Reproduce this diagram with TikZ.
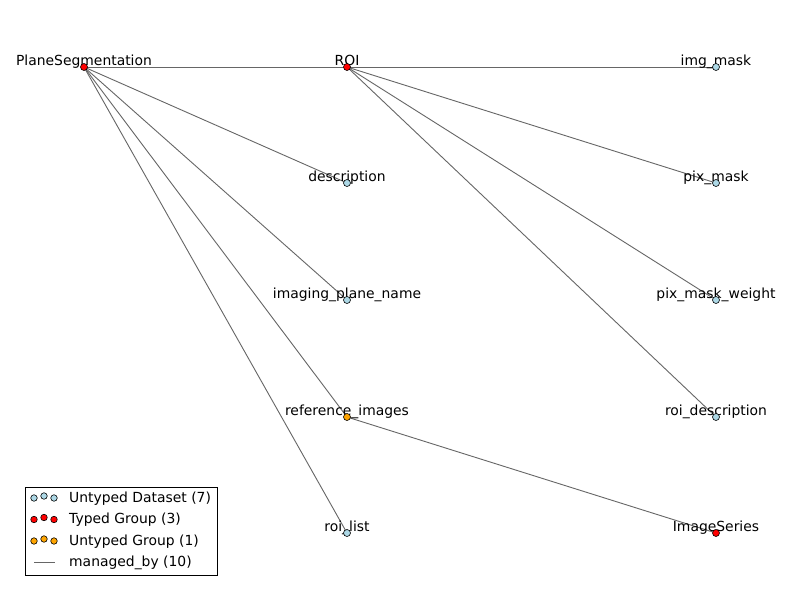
\documentclass[tikz,border=0pt]{standalone}
\usepackage{fontspec}
\setmainfont{DejaVu Sans}
\begin{document}
\begin{tikzpicture}[x=1pt,y=-1pt,
  edge/.style={draw=black!60!white, line width=0.9pt},
  dsnode/.style={circle, draw=black, line width=0.6pt, inner sep=0pt, minimum size=7pt, fill=lbl},
  tgnode/.style={dsnode, fill=red},
  ugnode/.style={dsnode, fill=orng},
  lmark/.style={circle, draw=black, line width=0.6pt, inner sep=0pt, minimum size=6.5pt},
  lab/.style={font=\fontsize{13.9}{16}\selectfont, anchor=base, inner sep=0pt},
  legtext/.style={font=\fontsize{13.9}{16}\selectfont, anchor=west, inner sep=0pt}]
\definecolor{lbl}{RGB}{173,216,230}
\definecolor{orng}{RGB}{255,165,0}
\useasboundingbox[fill=white] (0,0) rectangle (800,600);
% coordinates
\coordinate (PS) at (84,67);
\coordinate (ROI) at (347,67);
\coordinate (IM) at (716,67);
\coordinate (DE) at (347,183);
\coordinate (PM) at (716,183);
\coordinate (IPN) at (347,300);
\coordinate (PMW) at (716,300);
\coordinate (RI) at (347,417);
\coordinate (RD) at (716,417);
\coordinate (RL) at (347,533);
\coordinate (IS) at (716,533);
% edges
\draw[edge] (PS) -- (ROI);
\draw[edge] (PS) -- (DE);
\draw[edge] (PS) -- (IPN);
\draw[edge] (PS) -- (RI);
\draw[edge] (PS) -- (RL);
\draw[edge] (ROI) -- (IM);
\draw[edge] (ROI) -- (PM);
\draw[edge] (ROI) -- (PMW);
\draw[edge] (ROI) -- (RD);
\draw[edge] (RI) -- (IS);
% labels
\foreach \c/\t in {PS/PlaneSegmentation, ROI/ROI, IM/img\_mask, DE/description, PM/pix\_mask, IPN/imaging\_plane\_name, PMW/pix\_mask\_weight, RI/reference\_images, RD/roi\_description, RL/roi\_list, IS/ImageSeries}
  \node[lab] at ([yshift=2]\c) {\t};
% nodes
\node[tgnode] (nPS) at (PS) {};
\node[tgnode] (nROI) at (ROI) {};
\node[dsnode] (nIM) at (IM) {};
\node[dsnode] (nDE) at (DE) {};
\node[dsnode] (nPM) at (PM) {};
\node[dsnode] (nIPN) at (IPN) {};
\node[dsnode] (nPMW) at (PMW) {};
\node[ugnode] (nRI) at (RI) {};
\node[dsnode] (nRD) at (RD) {};
\node[dsnode] (nRL) at (RL) {};
\node[tgnode] (nIS) at (IS) {};
% legend
\draw[black, line width=0.9pt, fill=white] (25.5,487.5) rectangle (217,575);
\foreach \y/\col/\t [count=\i] in {498/lbl/Untyped Dataset (7), 519.5/red/Typed Group (3), 541/orng/Untyped Group (1)} {
  \node[lmark, fill=\col] (lm\i a) at (34,\y) {};
  \node[lmark, fill=\col] (lm\i b) at (44,\y-2) {};
  \node[lmark, fill=\col] (lm\i c) at (54,\y) {};
  \node[legtext] (lt\i) at (69,\y+0.5) {\t};
}
\coordinate (la) at (34,562);
\coordinate (lb) at (55,562);
\draw[edge] (la) -- (lb);
\node[legtext] (lt4) at (69,562.5) {managed\_by (10)};
\end{tikzpicture}
\end{document}
